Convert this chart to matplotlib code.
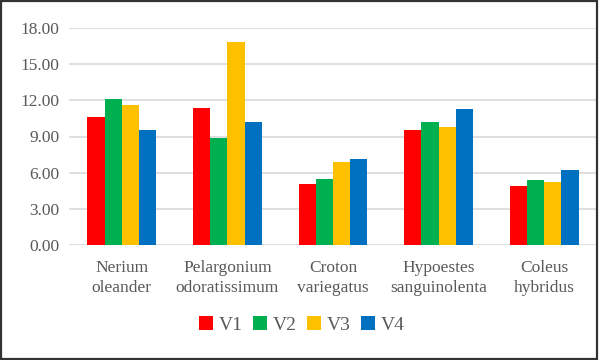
import numpy as np
import matplotlib.pyplot as plt
from matplotlib.patches import Rectangle

species = ["Nerium\noleander", "Pelargonium\nodoratissimum", "Croton\nvariegatus",
           "Hypoestes\nsanguinolenta", "Coleus\nhybridus"]
v1 = [10.6, 11.4, 5.1, 9.5, 4.9]
v2 = [12.1, 8.9, 5.5, 10.2, 5.4]
v3 = [11.6, 16.8, 6.9, 9.8, 5.2]
v4 = [9.5, 10.2, 7.1, 11.3, 6.2]
series = ["V1", "V2", "V3", "V4"]
colors = ["#FF0000", "#00B050", "#FFC000", "#0070C0"]
yticks = np.arange(0, 19, 3)

plt.rcParams['font.family'] = ['Liberation Serif', 'DejaVu Serif']
txt = "#595959"

fig = plt.figure(figsize=(5.99, 3.6), dpi=100)
ax = fig.add_axes([69 / 599, 1 - 245 / 360, 528 / 599, 217 / 360])

x = np.arange(len(species))
w = 0.163
for i, (vals, c) in enumerate(zip([v1, v2, v3, v4], colors)):
    ax.bar(x + (i - 1.5) * w, vals, w, color=c, label=series[i], zorder=3)

ax.set_xlim(-0.5, len(species) - 0.5)
ax.set_ylim(0, 18)
ax.set_yticks(yticks)
ax.set_yticklabels(["%.2f" % t for t in yticks], fontsize=12.5, color=txt)
ax.set_xticks(x)
ax.set_xticklabels(species, fontsize=12.5, color=txt, linespacing=1.35)
ax.tick_params(axis='x', length=0, pad=11)
ax.tick_params(axis='y', length=0, pad=7)
ax.grid(axis='y', color="#D9D9D9", lw=1.2, zorder=0)
for s in ax.spines.values():
    s.set_visible(False)

ax.legend(loc='center', bbox_to_anchor=(302 / 599, 1 - 325 / 360),
          bbox_transform=fig.transFigure, ncol=4, frameon=False,
          handlelength=0.7, handleheight=0.7, handletextpad=0.3,
          columnspacing=0.55, prop={'size': 14}, labelcolor=txt)

fig.patches.append(Rectangle((0.002, 0.003), 0.995, 0.994, transform=fig.transFigure,
                             fill=False, edgecolor="#333333", lw=1.6))

fig.savefig("out.png", dpi=100)
